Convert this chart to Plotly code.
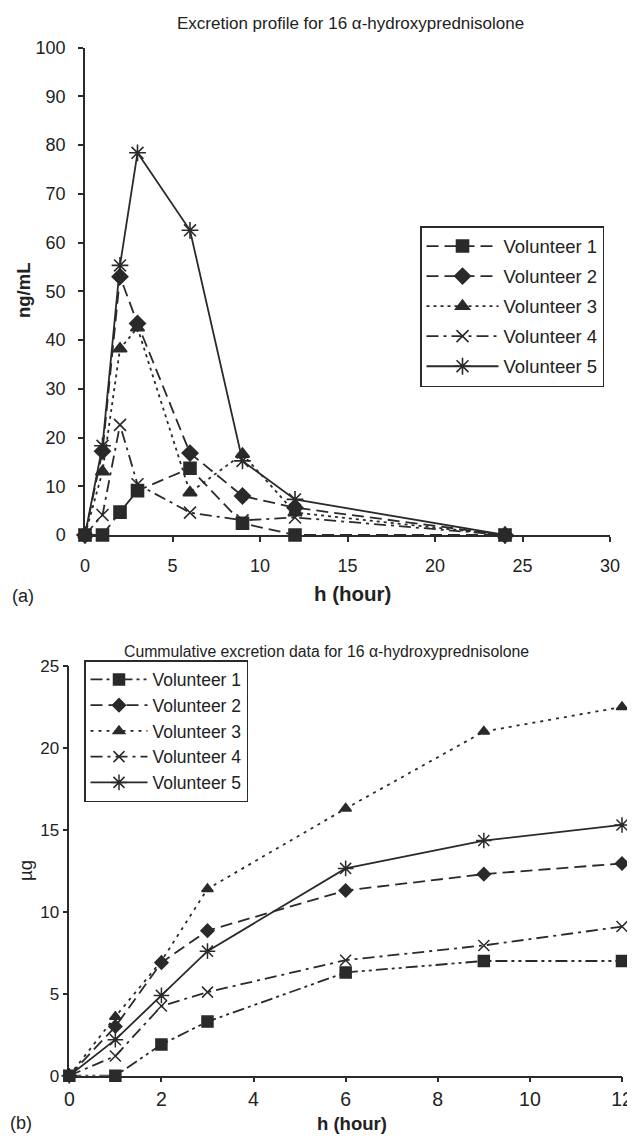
import plotly.graph_objects as go

# ---------------- data ----------------
names = ["Volunteer 1", "Volunteer 2", "Volunteer 3", "Volunteer 4", "Volunteer 5"]

# (a) excretion profile, ng/mL
t_a = [0, 1, 2, 3, 6, 9, 12, 24]
a_v1 = [0, 0, 4.7, 9.1, 13.7, 2.4, 0, 0]
a_v2 = [0, 17.2, 53.0, 43.4, 16.8, 8.0, 5.6, 0]
a_v3 = [0, 13.0, 38.2, 42.5, 8.7, 16.6, 4.6, 0]
a_v4 = [0, 4.1, 22.6, 10.4, 4.6, 3.0, 3.6, 0]
a_v5 = [0, 18.3, 55.3, 78.4, 62.5, 15.2, 7.3, 0]

# (b) cumulative excretion, ug
t_b = [0, 1, 2, 3, 6, 9, 12]
b_v1 = [0, 0, 1.9, 3.3, 6.3, 7.0, 7.0]
b_v2 = [0, 3.0, 6.9, 8.85, 11.3, 12.3, 12.95]
b_v3 = [0, 3.6, 7.0, 11.4, 16.3, 21.0, 22.5]
b_v4 = [0, 1.2, 4.25, 5.1, 7.05, 7.95, 9.1]
b_v5 = [0, 2.2, 4.9, 7.6, 12.65, 14.35, 15.3]

xticks_a = [0, 5, 10, 15, 20, 25, 30]
yticks_a = [0, 10, 20, 30, 40, 50, 60, 70, 80, 90, 100]
xticks_b = [0, 2, 4, 6, 8, 10, 12]
yticks_b = [0, 5, 10, 15, 20, 25]

# ---------------- styles ----------------
C = "#2a2a2a"
TXT = "#222"
FONT = "Liberation Sans, Arial, sans-serif"
symbols = ["square", "diamond", "triangle-up", "x-thin-open", "asterisk-open"]
dash_a = ["12px,6px", "12px,6px", "3px,4px", "12px,5px,3px,5px", "solid"]
dash_b = ["12px,4px,3px,4px,3px,4px", "12px,6px", "3px,5px", "12px,5px,3px,5px", "solid"]
size_a = [12, 12, 12, 12, 14]
size_b = [11, 10, 10, 11, 13]

# the page body has an 8px margin: figure is sized so it fills the 635x1136 window
OFF = 8
W, H = 635 - OFF, 1136 - OFF

def px(x):
    return (x - OFF) / W

def py(y):
    return 1 - (y - OFF) / H

fig = go.Figure()

series_a = [a_v1, a_v2, a_v3, a_v4, a_v5]
series_b = [b_v1, b_v2, b_v3, b_v4, b_v5]

for i, (nm, ys) in enumerate(zip(names, series_a)):
    fig.add_trace(go.Scatter(
        x=t_a, y=ys, name=nm, mode="lines+markers",
        xaxis="x", yaxis="y", legend="legend", legendgroup="a%d" % i,
        line=dict(color=C, width=1.8, dash=dash_a[i]),
        marker=dict(symbol=symbols[i], size=size_a[i], color=C,
                    line=dict(color=C, width=1.6)),
        cliponaxis=False,
    ))

for i, (nm, ys) in enumerate(zip(names, series_b)):
    fig.add_trace(go.Scatter(
        x=t_b, y=ys, name=nm, mode="lines+markers",
        xaxis="x2", yaxis="y2", legend="legend2", legendgroup="b%d" % i,
        line=dict(color=C, width=1.8, dash=dash_b[i]),
        marker=dict(symbol=symbols[i], size=size_b[i], color=C,
                    line=dict(color=C, width=1.5)),
        cliponaxis=False,
    ))

# plot-area pixel boxes (window pixels) -> paper domains
ax_a = dict(l=85, r=610, t=47.5, b=535)
ax_b = dict(l=69.3, r=622, t=666, b=1075.7)

def xd(box):
    return [px(box["l"]), px(box["r"])]

def yd(box):
    return [py(box["b"]), py(box["t"])]

def axis(size, standoff, **kw):
    d = dict(showline=True, linecolor=C, linewidth=1.5, ticks="outside",
             ticklen=5, tickwidth=1.5, tickcolor=C, showgrid=False,
             zeroline=False, automargin=False, ticklabelstandoff=standoff,
             tickfont=dict(family=FONT, size=size, color=TXT))
    d.update(kw)
    return d

fig.update_layout(
    width=W, height=H,
    margin=dict(l=0, r=0, t=0, b=0, pad=0),
    paper_bgcolor="white", plot_bgcolor="white",
    font=dict(family=FONT, color=TXT),
    xaxis=axis(18, 9, domain=xd(ax_a), range=[0, 30], tickvals=xticks_a, anchor="y"),
    yaxis=axis(18, 9, domain=yd(ax_a), range=[0, 100], tickvals=yticks_a, anchor="x"),
    xaxis2=axis(19.5, 0, domain=xd(ax_b), range=[0, 12], tickvals=xticks_b, anchor="y2"),
    yaxis2=axis(17, 0, domain=yd(ax_b), range=[0, 25], tickvals=yticks_b, anchor="x2"),
    legend=dict(x=px(420), y=py(226), xanchor="left", yanchor="top",
                bgcolor="white", bordercolor=C, borderwidth=1.5,
                font=dict(family=FONT, size=18.5, color=TXT),
                tracegroupgap=3, itemwidth=72),
    legend2=dict(x=px(84), y=py(660), xanchor="left", yanchor="top",
                 bgcolor="white", bordercolor=C, borderwidth=1.5,
                 font=dict(family=FONT, size=17.5, color=TXT),
                 tracegroupgap=0, itemwidth=57),
    showlegend=True,
)

ann = [
    dict(text="Excretion profile for 16 \u03b1-hydroxyprednisolone", x=350, y=23, size=17, bold=False),
    dict(text="Cummulative excretion data for 16 \u03b1-hydroxyprednisolone", x=326, y=651, size=15.8, bold=False),
    dict(text="h (hour)", x=352, y=593, size=20.5, bold=True),
    dict(text="h (hour)", x=352, y=1123, size=18.5, bold=True),
    dict(text="(a)", x=23, y=596, size=18, bold=False),
    dict(text="(b)", x=21, y=1123, size=18, bold=False),
]
for a in ann:
    fig.add_annotation(
        text=("<b>%s</b>" % a["text"]) if a["bold"] else a["text"],
        x=px(a["x"]), y=py(a["y"]), xref="paper", yref="paper",
        xanchor="center", yanchor="middle", showarrow=False,
        font=dict(family=FONT, size=a["size"], color=TXT))

fig.add_annotation(text="<b>ng/mL</b>", x=px(23), y=py(290), xref="paper", yref="paper",
                   textangle=-90, showarrow=False, xanchor="center", yanchor="middle",
                   font=dict(family=FONT, size=18.5, color=TXT))
fig.add_annotation(text="\u00b5g", x=px(25), y=py(871), xref="paper", yref="paper",
                   textangle=-90, showarrow=False, xanchor="center", yanchor="middle",
                   font=dict(family=FONT, size=18.5, color=TXT))

fig.write_html("out.html")
